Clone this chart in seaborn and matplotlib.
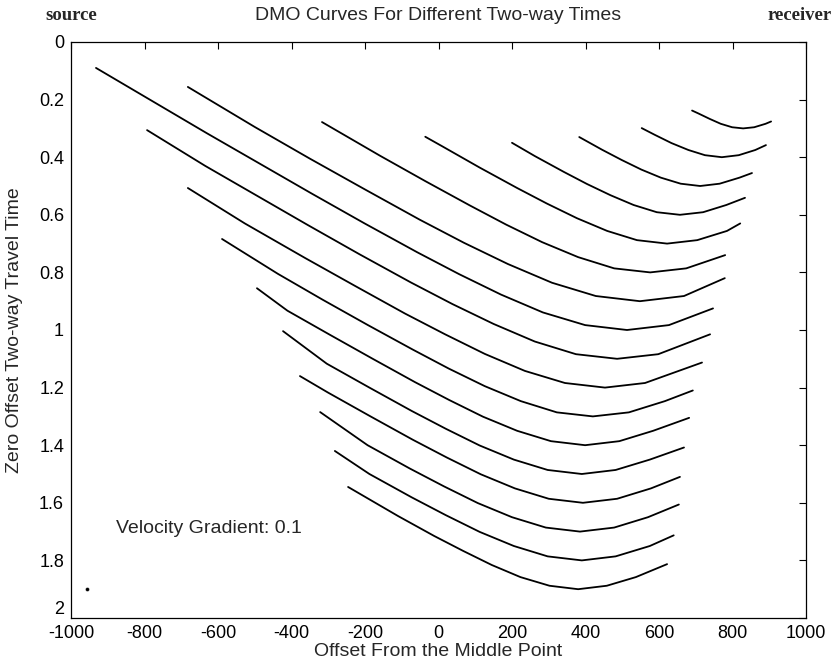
import matplotlib
matplotlib.use("Agg")
import matplotlib.pyplot as plt
import seaborn as sns
import pandas as pd

# ---- data (offset from middle point, zero-offset two-way time) ----
x_03 = [690, 707, 738, 768, 799, 829, 859, 890, 905]
t_03 = [0.238, 0.248, 0.267, 0.284, 0.296, 0.300, 0.296, 0.284, 0.276]
x_04 = [553, 588, 634, 680, 725, 771, 817, 862, 891]
t_04 = [0.299, 0.322, 0.351, 0.375, 0.393, 0.400, 0.393, 0.375, 0.358]
x_05 = [383, 445, 499, 552, 605, 659, 712, 765, 819, 853]
t_05 = [0.330, 0.374, 0.410, 0.443, 0.471, 0.492, 0.500, 0.492, 0.471, 0.455]
x_06 = [200, 262, 341, 404, 468, 531, 594, 657, 720, 783, 834]
t_06 = [0.350, 0.396, 0.451, 0.493, 0.532, 0.566, 0.591, 0.600, 0.591, 0.566, 0.541]
x_07 = [-36, 10, 112, 214, 295, 377, 459, 540, 622, 704, 785, 821]
t_07 = [0.329, 0.362, 0.436, 0.507, 0.561, 0.612, 0.656, 0.688, 0.700, 0.688, 0.656, 0.630]
x_08 = [-317, -159, -36, 86, 184, 282, 380, 478, 576, 674, 780]
t_08 = [0.278, 0.395, 0.483, 0.568, 0.634, 0.695, 0.747, 0.786, 0.800, 0.786, 0.740]
x_09 = [-682, -500, -350, -200, -51, 69, 189, 309, 428, 548, 668, 779]
t_09 = [0.156, 0.295, 0.405, 0.512, 0.617, 0.697, 0.771, 0.836, 0.882, 0.900, 0.882, 0.820]
x_10 = [-932, -630, -344, -201, -58, 56, 170, 284, 399, 513, 627, 747]
t_10 = [0.090, 0.317, 0.527, 0.630, 0.730, 0.806, 0.877, 0.939, 0.983, 1.000, 0.983, 0.925]
x_11 = [-793, -635, -355, -215, -75, 38, 150, 262, 374, 486, 598, 739]
t_11 = [0.306, 0.430, 0.636, 0.737, 0.835, 0.910, 0.979, 1.040, 1.084, 1.100, 1.084, 1.015]
x_12 = [-682, -527, -363, -227, -91, 18, 126, 235, 344, 453, 562, 717]
t_12 = [0.507, 0.630, 0.750, 0.847, 0.943, 1.015, 1.083, 1.142, 1.184, 1.200, 1.184, 1.113]
x_13 = [-589, -437, -315, -192, -70, 28, 126, 224, 322, 420, 518, 616, 692]
t_13 = [0.684, 0.805, 0.895, 0.983, 1.068, 1.134, 1.195, 1.247, 1.286, 1.300, 1.286, 1.247, 1.210]
x_14 = [-494, -411, -295, -179, -64, 29, 121, 214, 306, 399, 492, 584, 682]
t_14 = [0.855, 0.933, 1.017, 1.100, 1.181, 1.243, 1.301, 1.350, 1.386, 1.400, 1.386, 1.350, 1.305]
x_15 = [-423, -304, -188, -73, 20, 112, 205, 297, 390, 482, 575, 668]
t_15 = [1.004, 1.117, 1.200, 1.281, 1.343, 1.401, 1.450, 1.486, 1.500, 1.486, 1.450, 1.408]
x_16 = [-377, -301, -185, -70, 23, 115, 208, 300, 393, 486, 578, 657]
t_16 = [1.160, 1.217, 1.300, 1.381, 1.443, 1.501, 1.550, 1.586, 1.600, 1.586, 1.550, 1.510]
x_17 = [-322, -193, -78, 15, 107, 200, 292, 385, 478, 570, 654]
t_17 = [1.285, 1.400, 1.481, 1.543, 1.601, 1.650, 1.686, 1.700, 1.686, 1.650, 1.606]
x_18 = [-282, -188, -73, 20, 112, 205, 297, 390, 482, 575, 640]
t_18 = [1.420, 1.500, 1.581, 1.643, 1.701, 1.750, 1.786, 1.800, 1.786, 1.750, 1.713]
x_19 = [-246, -110, -12, 67, 145, 223, 302, 380, 458, 537, 622]
t_19 = [1.545, 1.646, 1.715, 1.767, 1.816, 1.858, 1.888, 1.900, 1.888, 1.858, 1.813]

dot_x = [-957]
dot_t = [1.90]

x_ticks = [-1000, -800, -600, -400, -200, 0, 200, 400, 600, 800, 1000]
x_tick_labels = ["-1000", "-800", "-600", "-400", "-200", "0", "200", "400", "600", "800", "1000"]
y_ticks = [0, 0.2, 0.4, 0.6, 0.8, 1.0, 1.2, 1.4, 1.6, 1.8, 2.0]
y_tick_labels = ["0", "0.2", "0.4", "0.6", "0.8", "1", "1.2", "1.4", "1.6", "1.8", "2"]

curves = [(x_03, t_03), (x_04, t_04), (x_05, t_05), (x_06, t_06), (x_07, t_07),
          (x_08, t_08), (x_09, t_09), (x_10, t_10), (x_11, t_11), (x_12, t_12),
          (x_13, t_13), (x_14, t_14), (x_15, t_15), (x_16, t_16), (x_17, t_17),
          (x_18, t_18), (x_19, t_19)]

frames = []
for i, (xs, ts) in enumerate(curves):
    frames.append(pd.DataFrame({"offset": xs, "time": ts, "curve": i}))
df = pd.concat(frames, ignore_index=True)

# ---- style ----
sns.set_theme(style="white")
plt.rcParams["font.family"] = ["Liberation Sans", "DejaVu Sans"]
plt.rcParams["font.size"] = 13
plt.rcParams["lines.solid_capstyle"] = "round"
plt.rcParams["lines.solid_joinstyle"] = "round"

fig = plt.figure(figsize=(8.35, 6.67), dpi=100)
ax = fig.add_axes([71 / 835, 1 - 618 / 667, (806 - 71) / 835, (618 - 42) / 667])

sns.lineplot(data=df, x="offset", y="time", units="curve", estimator=None,
             sort=False, color="black", linewidth=1.3, ax=ax, legend=False)
sns.scatterplot(x=dot_x, y=dot_t, color="black", s=8, ax=ax, legend=False)

ax.set_xlim(-1000, 1000)
ax.set_ylim(2, 0)
ax.set_xticks(x_ticks)
ax.set_xticklabels(x_tick_labels)
ax.set_yticks(y_ticks)
ax.set_yticklabels(y_tick_labels)
ax.tick_params(direction="in", length=5, width=0.8, top=True, right=True,
               labelsize=13, colors="black", pad=5)
ax.get_yticklabels()[-1].set_verticalalignment("bottom")

for sp in ax.spines.values():
    sp.set_visible(True)
    sp.set_color("black")
    sp.set_linewidth(0.9)

ax.set_xlabel("Offset From the Middle Point", fontsize=14, va="center")
ax.xaxis.set_label_coords(0.5, -(652 - 618) / 576)
ax.set_ylabel("Zero Offset Two-way Travel Time", fontsize=14, va="center")
ax.yaxis.set_label_coords((15 - 71) / 735, 0.5)

top_y = 1 + (42 - 15) / 576
ax.text(0.5, top_y, "DMO Curves For Different Two-way Times", transform=ax.transAxes,
        ha="center", va="center", fontsize=14)
ax.text(0.0, top_y, "source", transform=ax.transAxes, ha="center", va="center",
        fontsize=13.5, fontweight="bold", family=["Liberation Serif", "DejaVu Serif"])
fig.text(832 / 835, 1 - 15 / 667, "receiver", ha="right", va="center",
         fontsize=13.5, fontweight="bold", family=["Liberation Serif", "DejaVu Serif"])
ax.text(-878, 1.69, "Velocity Gradient: 0.1", ha="left", va="center", fontsize=14)

fig.savefig("out.png", dpi=100)
